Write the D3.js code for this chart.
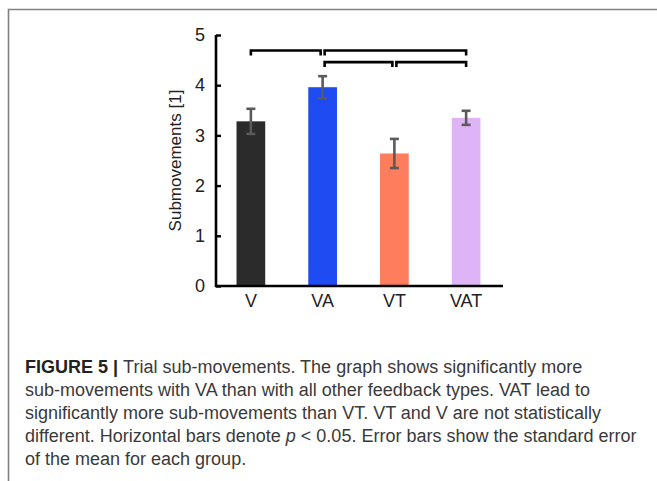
<!DOCTYPE html>
<html>
<head>
<meta charset="utf-8">
<script src="https://cdn.jsdelivr.net/npm/d3@7"></script>
<style>
  body { margin: 0; background: #fff; }
  svg { display: block; font-family: "Liberation Sans", Arial, sans-serif; }
</style>
</head>
<body>
<div id="container"></div>
<script>
/* DATA */
const categories = ["V", "VA", "VT", "VAT"];
const means = [3.28, 3.96, 2.64, 3.35];
const sems = [0.25, 0.22, 0.29, 0.14];
const barColors = ["#2b2b2b", "#1f4bf2", "#fd7d5c", "#dfb4f6"];
const yTicks = [0, 1, 2, 3, 4, 5];
// significance brackets: [from, to, height]
const brackets = [
  ["V", "VA", 4.69],
  ["VA", "VAT", 4.69],
  ["VA", "VT", 4.46],
  ["VT", "VAT", 4.46]
];
const captionLines = [
  "Trial sub-movements. The graph shows significantly more",
  "sub-movements with VA than with all other feedback types. VAT lead to",
  "significantly more sub-movements than VT. VT and V are not statistically",
  "different. Horizontal bars denote p < 0.05. Error bars show the standard error",
  "of the mean for each group."
];

/* CONSTANTS */
const width = 657, height = 481;

const svg = d3.select("#container")
  .append("svg")
  .attr("width", width)
  .attr("height", height);

// outer frame (top + left only)
svg.append("path")
  .attr("d", `M8.5,${height} V9.5 H${width}`)
  .attr("fill", "none")
  .attr("stroke", "#808080")
  .attr("stroke-width", 1.6);

/* SCALES */
const x = d3.scaleBand()
  .domain(categories)
  .range([215, 502])
  .paddingInner(0.6)
  .paddingOuter(0.3);

const y = d3.scaleLinear()
  .domain([0, 5])
  .range([286, 35]);

/* BARS */
svg.selectAll("rect.bar")
  .data(categories)
  .join("rect")
  .attr("class", "bar")
  .attr("x", d => x(d))
  .attr("width", x.bandwidth())
  .attr("y", (d, i) => y(means[i]))
  .attr("height", (d, i) => y(0) - y(means[i]))
  .attr("fill", (d, i) => barColors[i]);

/* ERROR BARS */
const err = svg.append("g")
  .attr("stroke", "#5a5a5a")
  .attr("stroke-width", 2.6);

categories.forEach((c, i) => {
  const cx = x(c) + x.bandwidth() / 2;
  const top = y(means[i] + sems[i]), bot = y(means[i] - sems[i]);
  err.append("line").attr("x1", cx).attr("x2", cx).attr("y1", top).attr("y2", bot);
  err.append("line").attr("x1", cx - 4.5).attr("x2", cx + 4.5).attr("y1", top).attr("y2", top);
  err.append("line").attr("x1", cx - 4.5).attr("x2", cx + 4.5).attr("y1", bot).attr("y2", bot);
});

/* AXES */
const yAxis = svg.append("g")
  .attr("transform", "translate(216,0)")
  .call(d3.axisLeft(y).tickValues(yTicks).tickFormat(d3.format("d"))
    .tickSizeInner(-5).tickSizeOuter(0).tickPadding(11));

const xAxis = svg.append("g")
  .attr("transform", "translate(0,286)")
  .call(d3.axisBottom(x).tickSize(0).tickPadding(8));

yAxis.select(".domain").attr("d", `M0,${y(5)}V${y(0) + 1}`);
xAxis.select(".domain").attr("d", "M215,0H503");

svg.selectAll(".domain").attr("stroke", "#000").attr("stroke-width", 2.6);
yAxis.selectAll(".tick line").attr("stroke", "#000").attr("stroke-width", 2.4);
svg.selectAll(".tick text")
  .attr("fill", "#222")
  .attr("font-size", 18)
  .attr("font-family", "'Liberation Sans', Arial, sans-serif");

// y axis title
svg.append("text")
  .attr("transform", `translate(181,${(y(0) + y(5)) / 2}) rotate(-90)`)
  .attr("text-anchor", "middle")
  .attr("fill", "#222")
  .attr("font-size", 17)
  .text("Submovements [1]");

/* SIGNIFICANCE BRACKETS */
svg.append("g")
  .selectAll("path")
  .data(brackets)
  .join("path")
  .attr("d", d => {
    const x1 = x(d[0]) + x.bandwidth() / 2 + (d[0] === "V" ? 0 : 2);
    const x2 = x(d[1]) + x.bandwidth() / 2 - (d[1] === "VAT" ? 0 : 2);
    const yy = y(d[2]);
    return `M${x1},${yy + 5}V${yy}H${x2}V${yy + 5}`;
  })
  .attr("fill", "none")
  .attr("stroke", "#000")
  .attr("stroke-width", 2.6);

/* CAPTION */
const cap = svg.append("g")
  .attr("fill", "#3a3a3a")
  .attr("font-size", 18);

const first = cap.append("text").attr("x", 25).attr("y", 373);
first.append("tspan").attr("font-weight", "bold").attr("fill", "#222").text("FIGURE 5 | ");
first.append("tspan").text(captionLines[0]);

captionLines.slice(1).forEach((line, i) => {
  const t = cap.append("text").attr("x", 25).attr("y", 396 + i * 23);
  if (line.includes("p < 0.05")) {
    const parts = line.split("p <");
    t.append("tspan").text(parts[0]);
    t.append("tspan").attr("font-style", "italic").text("p");
    t.append("tspan").text(" <" + parts[1]);
  } else {
    t.text(line);
  }
});
</script>
</body>
</html>
